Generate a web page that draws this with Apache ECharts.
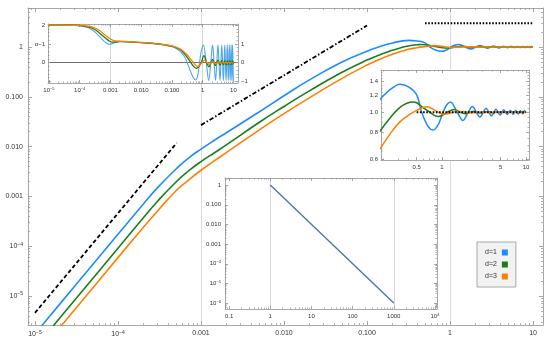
<!DOCTYPE html>
<html><head><meta charset="utf-8">
<script src="https://cdn.jsdelivr.net/npm/echarts@6/dist/echarts.min.js"></script>
<style>html,body{margin:0;padding:0;background:#fff}#c{width:550px;height:342px}</style>
</head><body><div id="c"></div>
<script>
// ---------------- data ----------------
const blueF = [[1e-5,1.74e-6],[2e-5,6.95e-6],[5e-5,4.35e-5],[1e-4,1.74e-4],[2e-4,6.9e-4],[3e-4,1.5e-3],[5e-4,3.55e-3],[7e-4,5.8e-3],[1e-3,8.9e-3],[1.5e-3,0.0139],[2e-3,0.0188],[5e-3,0.0495],[0.01,0.105],[0.02,0.216],[0.05,0.5],[0.1,0.82],[0.15,1.045],[0.188,1.166],[0.25,1.295],[0.316,1.36],[0.4,1.32],[0.5,1.21],[0.573,1.0],[0.68,0.86],[0.79,0.823],[0.9,0.87],[1.0,0.97],[1.13,1.08],[1.26,1.12],[1.52,1.0],[1.78,0.915],[2.05,1.0],[2.3,1.065],[2.57,1.0],[2.83,0.947],[3.1,1.0],[3.35,1.045],[3.62,1.0],[3.88,0.961],[4.15,1.0],[4.4,1.034],[4.67,1.0],[4.93,0.97],[5.2,1.0],[5.45,1.028],[5.72,1.0],[5.98,0.975],[6.25,1.0],[6.5,1.023],[6.77,1.0],[7.03,0.979],[7.3,1.0],[7.55,1.02],[7.82,1.0],[8.08,0.981],[8.35,1.0],[8.6,1.018],[8.87,1.0],[9.13,0.984],[9.4,1.0],[9.65,1.016],[10,1.0]];
const greenF = [[1e-5,9.1e-7],[2e-5,3.65e-6],[5e-5,2.28e-5],[1e-4,9.1e-5],[2e-4,3.65e-4],[3e-4,8.0e-4],[5e-4,1.95e-3],[7e-4,3.2e-3],[1e-3,5.0e-3],[1.5e-3,7.8e-3],[2e-3,0.0107],[5e-3,0.0305],[0.01,0.064],[0.02,0.13],[0.05,0.31],[0.1,0.548],[0.15,0.722],[0.188,0.826],[0.25,0.958],[0.3,1.035],[0.35,1.084],[0.416,1.115],[0.45,1.12],[0.5,1.11],[0.6,1.05],[0.72,1.0],[0.8,0.97],[0.9,0.955],[1.0,0.965],[1.15,1.0],[1.4,1.03],[1.65,1.0],[1.9,0.985],[2.15,1.0],[2.4,1.012],[2.65,1.0],[2.9,0.992],[3.2,1.0],[3.5,1.006],[3.8,1.0],[4.1,0.996],[4.4,1.0],[5,1.0],[6,1.0],[8,1.0],[10,1.0]];
const orangeF = [[1e-5,5.9e-7],[2e-5,2.35e-6],[5e-5,1.47e-5],[1e-4,5.9e-5],[2e-4,2.35e-4],[3e-4,5.1e-4],[5e-4,1.3e-3],[7e-4,2.1e-3],[1e-3,3.35e-3],[1.5e-3,5.4e-3],[2e-3,7.5e-3],[5e-3,0.0215],[0.01,0.046],[0.02,0.094],[0.05,0.234],[0.1,0.434],[0.15,0.588],[0.188,0.681],[0.25,0.805],[0.316,0.9],[0.4,0.968],[0.5,1.02],[0.58,1.05],[0.66,1.063],[0.8,1.03],[0.95,0.99],[1.08,0.98],[1.3,0.995],[1.5,1.01],[1.8,1.005],[2.2,0.995],[2.6,1.002],[3.2,1.0],[5,1.0],[10,1.0]];

const alphaBlue = [[1e-5,2.0],[3e-5,2.0],[6e-5,2.0],[1e-4,1.97],[1.5e-4,1.92],[2e-4,1.84],[3e-4,1.66],[4e-4,1.47],[5e-4,1.3],[6e-4,1.16],[7.5e-4,1.04],[9e-4,0.99],[1.05e-3,0.99],[1.25e-3,1.04],[1.6e-3,1.1],[2.2e-3,1.12],[3.5e-3,1.1],[0.01,1.06],[0.03,1.0],[0.06,0.93],[0.1,0.85],[0.15,0.72],[0.2,0.55],[0.26,0.3],[0.316,0.0],[0.4,-0.45],[0.5,-0.8],[0.6,-0.92],[0.7,-0.65],[0.79,0.0],[0.9,0.6],[1.05,0.95],[1.31,0],[1.575,-0.95],[1.84,0],[2.1,0.95],[2.36,0],[2.625,-0.95],[2.89,0],[3.15,0.95],[3.41,0],[3.675,-0.95],[3.94,0],[4.2,0.95],[4.46,0],[4.725,-0.95],[4.99,0],[5.25,0.95],[5.51,0],[5.775,-0.95],[6.04,0],[6.3,0.95],[6.56,0],[6.825,-0.95],[7.09,0],[7.35,0.95],[7.61,0],[7.875,-0.95],[8.14,0],[8.4,0.95],[8.66,0],[8.925,-0.95],[9.19,0],[9.45,0.95],[9.71,0],[9.975,-0.95]];
const alphaGreen = [[1e-5,2.0],[5e-5,2.0],[1e-4,1.98],[2e-4,1.9],[3e-4,1.78],[4e-4,1.64],[5e-4,1.5],[7e-4,1.3],[9e-4,1.16],[1.1e-3,1.1],[1.4e-3,1.1],[2e-3,1.13],[3e-3,1.12],[0.01,1.07],[0.03,1.01],[0.06,0.95],[0.1,0.88],[0.15,0.78],[0.2,0.66],[0.3,0.33],[0.416,0.0],[0.5,-0.18],[0.62,-0.3],[0.75,-0.2],[0.9,0.0],[1.1,0.38],[1.35,0],[1.6,-0.22],[1.85,0],[2.1,0.18],[2.35,0],[2.62,-0.15],[2.89,0],[3.15,0.14],[3.41,0],[3.675,-0.13],[3.94,0],[4.2,0.12],[4.46,0],[4.725,-0.12],[4.99,0],[5.25,0.11],[5.51,0],[5.775,-0.11],[6.04,0],[6.3,0.1],[6.56,0],[6.825,-0.1],[7.09,0],[7.35,0.1],[7.61,0],[7.875,-0.1],[8.14,0],[8.4,0.1],[8.66,0],[8.925,-0.1],[9.19,0],[9.45,0.1],[9.71,0],[10,-0.08]];
const alphaOrange = [[1e-5,2.0],[1e-4,1.99],[2e-4,1.94],[3e-4,1.86],[4e-4,1.76],[5e-4,1.65],[7e-4,1.45],[1e-3,1.26],[1.3e-3,1.18],[1.8e-3,1.15],[3e-3,1.13],[0.01,1.08],[0.03,1.02],[0.06,0.96],[0.1,0.9],[0.15,0.8],[0.2,0.7],[0.3,0.45],[0.45,0.1],[0.58,-0.12],[0.68,-0.2],[0.8,-0.12],[0.95,0.0],[1.15,0.12],[1.4,0.0],[1.65,-0.09],[1.9,0],[2.15,0.07],[2.4,0],[2.7,-0.06],[3.0,0],[3.3,0.05],[3.6,0],[3.9,-0.05],[4.2,0],[4.5,0.04],[4.8,0],[5.1,-0.04],[5.4,0],[5.7,0.04],[6,0],[6.3,-0.03],[6.6,0],[7,0.03],[7.4,0],[7.8,-0.03],[8.2,0],[8.6,0.03],[9,0],[9.5,-0.03],[10,0]];

const powerLaw = [[1,1],[1000,1e-6]];
const refSlope2 = [[1e-5,4.6e-6],[5.1e-4,0.0119]];
const refSlope1 = [[1e-3,0.027],[0.1,2.7]];
const refFlatMain = [[0.5,3],[10,3]];
const refFlatInset = [[0.5,1],[10,1]];

const legendNames = ['d=1','d=2','d=3'];

const mainXTicks = [1e-5,1e-4,1e-3,0.01,0.1,1,10];
const mainXLabels = ['10{s|−5}','10{s|−4}','0.001','0.010','0.100','1','10'];
const mainYTicks = [1e-5,1e-4,1e-3,0.01,0.1,1];
const mainYLabels = ['10{s|−5}','10{s|−4}','0.001','0.010','0.100','1'];
const alphaYTicksL = [0,1,2];
const alphaYLabelsL = ['0','α−1','2'];
const alphaYTicksR = [-1,0,1];
const alphaYLabelsR = ['−1','0','1'];
const powXTicks = [0.1,1,10,100,1000,1e4];
const powXLabels = ['0.1','1','10','100','1000','10{s|4}'];
const powYTicks = [1e-6,1e-5,1e-4,1e-3,0.01,0.1,1];
const powYLabels = ['10{s|−6}','10{s|−5}','10{s|−4}','0.001','0.010','0.100','1'];
const zoomXTicks = [0.5,1,5,10];
const zoomXLabels = ['0.5','1','5','10'];
const zoomYTicks = [0.6,0.8,1.0,1.2,1.4];
const zoomYLabels = ['0.6','0.8','1.0','1.2','1.4'];
const zoomXMinor = [0.2,0.3,0.4,0.6,0.7,0.8,0.9,2,3,4,6,7,8,9];
const zoomYMinor = [0.65,0.7,0.75,0.85,0.9,0.95,1.05,1.1,1.15,1.25,1.3,1.35,1.45,1.5,1.55];
const alphaYMinor = [-0.8,-0.6,-0.4,-0.2,0.2,0.4,0.6,0.8,1.2,1.4,1.6,1.8];

// ---------------- helpers ----------------
const FONT = '"Liberation Sans", Arial, sans-serif';
const FRAME = '#a8a8a8', TICKC = '#909090', LABC = '#333';
const lg = v => Math.log10(v);
const id = v => v;
const xAxes = [], yAxes = [];

function logMinorRaw(lo, hi) {
  const out = [];
  for (let d = Math.floor(lo) - 1; d <= Math.ceil(hi); d++)
    for (let k = 2; k <= 9; k++) { const v = d + Math.log10(k); if (v > lo && v < hi) out.push(k * Math.pow(10, d)); }
  return out;
}
function fmt(vals, labels) {
  return v => { for (let i = 0; i < vals.length; i++) if (Math.abs(vals[i] - v) < 1e-6) return labels[i]; return ''; };
}
function frame(dim, o) {
  const list = dim === 'x' ? xAxes : yAxes;
  const sides = dim === 'x' ? ['bottom', 'top'] : ['left', 'right'];
  const first = list.length;
  const majors = o.majors.map(o.tf), minors = o.minors.map(o.tf);
  sides.forEach((pos, si) => {
    const lab = si === 0 ? o.labA : o.labB;
    let axisLabel = {show: false};
    if (lab) {
      const lv = lab[0].map(o.tf);
      axisLabel = {show: true, customValues: lv, formatter: fmt(lv, lab[1]), fontSize: o.fs, color: LABC,
        fontFamily: FONT, margin: o.margin,
        rich: {s: {fontSize: o.fs - 2, padding: [0, 0, o.fs - 3, 0], fontFamily: FONT, color: LABC}}};
    }
    list.push({type: 'value', gridIndex: o.grid, min: o.min, max: o.max, position: pos, zlevel: o.z,
      axisLine: {show: true, onZero: false, lineStyle: {color: FRAME, width: 1}},
      axisTick: {show: true, inside: true, length: o.maj, customValues: majors, lineStyle: {color: TICKC, width: 0.8}},
      splitLine: {show: false}, axisLabel});
    list.push({type: 'value', gridIndex: o.grid, min: o.min, max: o.max, position: pos, zlevel: o.z,
      axisLine: {show: false, onZero: false},
      axisTick: {show: true, inside: true, length: o.mnl, customValues: minors, lineStyle: {color: TICKC, width: 0.7}},
      splitLine: {show: false}, axisLabel: {show: false}});
  });
  if (o.grids) {
    list.push({type: 'value', gridIndex: o.grid, min: o.min, max: o.max, position: sides[0], zlevel: o.z,
      axisLine: {show: false, onZero: false},
      axisTick: {show: false, customValues: o.grids.map(o.tf)},
      axisLabel: {show: false},
      splitLine: {show: true, lineStyle: {color: o.gridColor, width: o.gridWidth || 1}}});
  }
  return first;
}

// ---------------- axes ----------------
const mx = frame('x', {grid: 0, z: 0, tf: lg, min: -5.084, max: 1.12, majors: mainXTicks, minors: logMinorRaw(-5.084, 1.12),
  labA: [mainXTicks, mainXLabels], maj: 4, mnl: 2, fs: 7, margin: 5, grids: [1e-3, 1], gridColor: '#dcdcdc'});
const my = frame('y', {grid: 0, z: 0, tf: lg, min: -5.582, max: 0.783, majors: mainYTicks, minors: logMinorRaw(-5.582, 0.783),
  labA: [mainYTicks, mainYLabels], maj: 4, mnl: 2, fs: 7, margin: 5});
const ax = frame('x', {grid: 1, z: 1, tf: lg, min: -5.03, max: 1.15, majors: mainXTicks, minors: logMinorRaw(-5.03, 1.15),
  labA: [mainXTicks, mainXLabels], maj: 3, mnl: 1.5, fs: 6, margin: 4, grids: [1e-3, 1], gridColor: '#d6d6d6'});
const ay = frame('y', {grid: 1, z: 1, tf: id, min: -1.08, max: 2.06, majors: [-1, 0, 1, 2], minors: alphaYMinor,
  labA: [alphaYTicksL, alphaYLabelsL], labB: [alphaYTicksR, alphaYLabelsR], maj: 3, mnl: 1.5, fs: 6, margin: 3,
  grids: [0], gridColor: '#707070', gridWidth: 1.2});
const px = frame('x', {grid: 2, z: 1, tf: lg, min: -1.1, max: 4.05, majors: powXTicks, minors: logMinorRaw(-1.1, 4.05),
  labA: [powXTicks, powXLabels], maj: 3, mnl: 1.5, fs: 6, margin: 4, grids: [1, 1000], gridColor: '#d6d6d6'});
const py = frame('y', {grid: 2, z: 1, tf: lg, min: -6.3, max: 0.36, majors: powYTicks, minors: logMinorRaw(-6.3, 0.36),
  labA: [powYTicks, powYLabels], maj: 3, mnl: 1.5, fs: 6, margin: 4});
const zx = frame('x', {grid: 3, z: 1, tf: lg, min: -0.726, max: 1.036, majors: zoomXTicks, minors: zoomXMinor,
  labA: [zoomXTicks, zoomXLabels], maj: 3, mnl: 1.5, fs: 6, margin: 4});
const zy = frame('y', {grid: 3, z: 1, tf: lg, min: -0.227, max: 0.201, majors: zoomYTicks, minors: zoomYMinor,
  labA: [zoomYTicks, zoomYLabels], maj: 3, mnl: 1.5, fs: 6, margin: 3});

// ---------------- series ----------------
const BLUE = '#1e8cff', GREEN = '#1b7d1b', ORANGE = '#ff8000', BLUE_A = '#4ea6f2';
function line(name, pts, fx, fy, xi, yi, color, width, zl, extra) {
  return Object.assign({type: 'line', name: name, data: pts.map(p => [fx(p[0]), fy(p[1])]),
    xAxisIndex: xi, yAxisIndex: yi, zlevel: zl, showSymbol: false, symbol: 'none', smooth: 0.35,
    clip: true, animation: false, silent: true, color: color, itemStyle: {color: color},
    lineStyle: {color: color, width: width}}, extra || {});
}
const series = [
  line(legendNames[0], blueF, lg, lg, mx, my, BLUE, 1.6, 0, {smooth: 0.5}),
  line(legendNames[1], greenF, lg, lg, mx, my, GREEN, 1.6, 0, {smooth: 0.5}),
  line(legendNames[2], orangeF, lg, lg, mx, my, ORANGE, 1.6, 0, {smooth: 0.5}),
  line(null, refSlope2, lg, lg, mx, my, '#000', 1.8, 0, {smooth: false, lineStyle: {color: '#000', width: 1.8, type: [4, 2.5]}}),
  line(null, refSlope1, lg, lg, mx, my, '#000', 1.8, 0, {smooth: false, lineStyle: {color: '#000', width: 1.8, type: [4.5, 2, 1.5, 2]}}),
  line(null, refFlatMain, lg, lg, mx, my, '#000', 2, 0, {smooth: false, lineStyle: {color: '#000', width: 2, type: [1.6, 1.6]}}),

  line(null, alphaBlue, lg, id, ax, ay, BLUE_A, 1.1, 1),
  line(null, alphaGreen, lg, id, ax, ay, GREEN, 1.3, 1),
  line(null, alphaOrange, lg, id, ax, ay, ORANGE, 1.3, 1),

  line(null, powerLaw, lg, lg, px, py, '#4f72b3', 1.4, 1, {smooth: false}),

  line(null, blueF, lg, lg, zx, zy, BLUE, 1.5, 1),
  line(null, greenF, lg, lg, zx, zy, GREEN, 1.5, 1),
  line(null, orangeF, lg, lg, zx, zy, ORANGE, 1.5, 1),
  line(null, refFlatInset, lg, lg, zx, zy, '#000', 2, 1, {smooth: false, lineStyle: {color: '#000', width: 2, type: [1.6, 1.6]}})
];

const option = {
  animation: false,
  backgroundColor: '#fff',
  grid: [
    {left: 28, top: 8, width: 515, height: 317, zlevel: 0},
    {left: 48, top: 24, width: 190, height: 59, zlevel: 1, show: true, backgroundColor: '#fff', borderWidth: 0},
    {left: 225, top: 178, width: 212, height: 131, zlevel: 1, show: true, backgroundColor: '#fff', borderWidth: 0},
    {left: 381, top: 70, width: 148, height: 90, zlevel: 1, show: true, backgroundColor: '#fff', borderWidth: 0}
  ],
  xAxis: xAxes,
  yAxis: yAxes,
  legend: {
    data: legendNames, orient: 'vertical', left: 477, top: 242, align: 'right', zlevel: 2,
    icon: 'rect', itemWidth: 6, itemHeight: 6, itemGap: 5, padding: [7, 8, 7, 8],
    backgroundColor: '#f2f2f2', borderColor: '#a8a8a8', borderWidth: 1, selectedMode: false,
    textStyle: {fontSize: 7, color: '#333', fontFamily: FONT}
  },
  series: series
};
const chart = echarts.init(document.getElementById('c'), null, {renderer: 'canvas'});
chart.setOption(option);
</script></body></html>
